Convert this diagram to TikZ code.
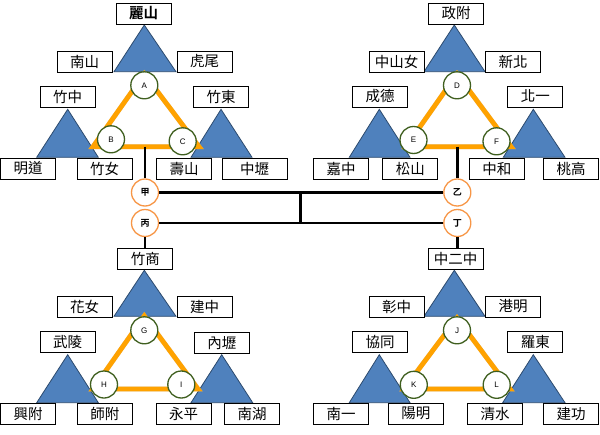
\documentclass[tikz,border=0pt]{standalone}
\usepackage{fontspec}
\setmainfont{Liberation Sans}
\newfontfamily\cjk{Noto Sans CJK TC}[BoldFont={Noto Sans CJK TC Bold}]
\definecolor{triblue}{HTML}{4F81BD}
\definecolor{tridark}{HTML}{2C4A6E}
\definecolor{circgreen}{HTML}{3F5F1F}
\definecolor{circorange}{HTML}{F79646}
\definecolor{linorange}{HTML}{FFA200}
\tikzset{
  box/.style={draw=black, line width=0.9pt, fill=white, minimum width=55pt, minimum height=21pt, inner sep=0pt, font=\cjk\fontsize{14.5}{14.5}\selectfont},
  tri/.style={fill=triblue, draw=tridark, line width=0.8pt},
  lcirc/.style={circle, draw=circgreen, line width=1.3pt, fill=white, minimum size=27pt, inner sep=0pt, font=\fontsize{8}{8}\selectfont},
  ocirc/.style={circle, draw=circorange, line width=1.3pt, fill=white, minimum size=27pt, inner sep=0pt, font=\cjk\bfseries\fontsize{9}{9}\selectfont},
  orangeline/.style={draw=linorange, line width=4.8pt},
  shadowline/.style={draw=black!25, line width=4.8pt, opacity=0.6},
  link/.style={draw=black, line width=2.7pt}
}
\begin{document}
\begin{tikzpicture}[x=1pt,y=-1pt]
\useasboundingbox (0,0) rectangle (600,434);
\fill[white] (0,0) rectangle (600,434);

% ---- blue triangles
\draw[tri] (144.3,25) -- (114,71.7) -- (176,71.7) -- cycle;
\draw[tri] (67.7,109.3) -- (36.7,157.3) -- (98.3,157.3) -- cycle;
\draw[tri] (221,109.3) -- (191,157.3) -- (252,157.3) -- cycle;
\draw[tri] (454.3,25) -- (424,71.7) -- (485,71.7) -- cycle;
\draw[tri] (379.3,109.3) -- (349.3,157.3) -- (410,157.3) -- cycle;
\draw[tri] (533.3,109.3) -- (503.3,157.3) -- (565,157.3) -- cycle;
\draw[tri] (144.3,270.3) -- (114,316.3) -- (176,316.3) -- cycle;
\draw[tri] (67.7,354.7) -- (36.7,402.7) -- (98.3,402.7) -- cycle;
\draw[tri] (221.7,354.7) -- (191,402.7) -- (252.7,402.7) -- cycle;
\draw[tri] (454.3,270.3) -- (424,316.3) -- (485,316.3) -- cycle;
\draw[tri] (379.3,354.7) -- (349.3,402.7) -- (410,402.7) -- cycle;
\draw[tri] (533.3,354.7) -- (502.7,402.7) -- (565,402.7) -- cycle;

% ---- orange triangles with shadows
\coordinate (o1a) at (144.3,74);  \coordinate (o1b) at (93,146.7);  \coordinate (o1c) at (199,146.7);
\coordinate (o2a) at (457,74);    \coordinate (o2b) at (406,146.7); \coordinate (o2c) at (511,146.7);
\coordinate (o3a) at (144.3,316); \coordinate (o3b) at (93,389);    \coordinate (o3c) at (198,389);
\coordinate (o4a) at (457,318);   \coordinate (o4b) at (404,389);   \coordinate (o4c) at (510,389);
\foreach \k in {1,2,3,4}{
  \draw[shadowline, shift={(1.8,1.2)}] (o\k a) -- (o\k b) -- (o\k c) -- cycle;
  \draw[orangeline] (o\k a) -- (o\k b) -- (o\k c) -- cycle;
}

% ---- connection points at bottom of orange triangles
\coordinate (t1) at (145,146.7);
\coordinate (t2) at (457.3,146.7);

% ---- group circles
\node[ocirc] (jia)  at (145,192.5) {甲};
\node[ocirc] (yi)   at (457.3,192.5) {乙};
\node[ocirc] (bing) at (145,223) {丙};
\node[ocirc] (ding) at (457.3,223) {丁};

% ---- boxes top-left
\node[box, font=\cjk\bfseries\fontsize{14.5}{14.5}\selectfont] (lishan) at (143.5,13.5) {麗山};
\node[box] (nanshan) at (84.5,61.5) {南山};
\node[box] (huwei) at (204.5,61.5) {虎尾};
\node[box] (zhuzhong) at (67.5,96.5) {竹中};
\node[box] (mingdao) at (28,168.5) {明道};
\node[box] (zhunu) at (104.5,168.5) {竹女};
\node[box] (zhudong) at (221,96.5) {竹東};
\node[box] (shoushan) at (184,168.5) {壽山};
\node[box, minimum width=65pt] (zhongli) at (254.5,168.5) {中壢};

% ---- boxes top-right
\node[box] (zhengfu) at (456,13.5) {政附};
\node[box] (zhongshan) at (396.7,61.5) {中山女};
\node[box] (xinbei) at (513,61.5) {新北};
\node[box] (chengde) at (380,96.5) {成德};
\node[box] (jiazhong) at (341,168.5) {嘉中};
\node[box] (songshan) at (410.3,168.5) {松山};
\node[box] (beiyi) at (535.3,96.5) {北一};
\node[box] (zhonghe) at (496.8,168.5) {中和};
\node[box] (taogao) at (571.2,168.5) {桃高};

% ---- boxes bottom-left
\node[box] (zhushang) at (145.3,258.7) {竹商};
\node[box] (huanu) at (84.7,306.5) {花女};
\node[box] (jianzhong) at (204.5,306.5) {建中};
\node[box] (wuling) at (67.7,342) {武陵};
\node[box] (xingfu) at (28,413.5) {興附};
\node[box] (shifu) at (104.8,413.5) {師附};
\node[box] (neili) at (221.8,343.2) {內壢};
\node[box] (yongping) at (183.5,413.5) {永平};
\node[box] (nanhu) at (252.2,414) {南湖};

% ---- boxes bottom-right
\node[box] (zhongerzhong) at (455.5,258.7) {中二中};
\node[box] (zhangzhong) at (396.7,306.5) {彰中};
\node[box] (gangming) at (513.2,306.5) {港明};
\node[box] (xietong) at (380,342) {協同};
\node[box] (nanyi) at (341.2,413.5) {南一};
\node[box] (yangming) at (415.8,413.5) {陽明};
\node[box] (luodong) at (535.3,342) {羅東};
\node[box] (qingshui) at (495,414) {清水};
\node[box] (jiangong) at (571.2,413.5) {建功};

% ---- lettered circles
\node[lcirc] (A) at (144.3,85.3) {A};
\node[lcirc] (B) at (111,139.3) {B};
\node[lcirc] (C) at (182.7,141.3) {C};
\node[lcirc] (D) at (457,85.3) {D};
\node[lcirc] (E) at (413.5,140) {E};
\node[lcirc] (F) at (496.5,141.3) {F};
\node[lcirc] (G) at (144.3,330.3) {G};
\node[lcirc] (H) at (104,384.5) {H};
\node[lcirc] (I) at (181.3,384.5) {I};
\node[lcirc] (J) at (457,330.3) {J};
\node[lcirc] (K) at (413.8,384.8) {K};
\node[lcirc] (L) at (496.7,384.8) {L};

% ---- black connectors
\draw[link] (t1) -- (t1 |- jia.north);
\draw[link] (t2) -- (t2 |- yi.north);
\draw[link] (bing.south) -- (bing.south |- zhushang.north);
\draw[link] (ding.south) -- (ding.south |- zhongerzhong.north);
\draw[link] (jia.east) -- (yi.west);
\draw[link] (bing.east) -- (ding.west);
\coordinate (m1) at (300.3,192.5);
\coordinate (m2) at (300.3,223);
\draw[link] (m1) -- (m2);
\end{tikzpicture}
\end{document}
